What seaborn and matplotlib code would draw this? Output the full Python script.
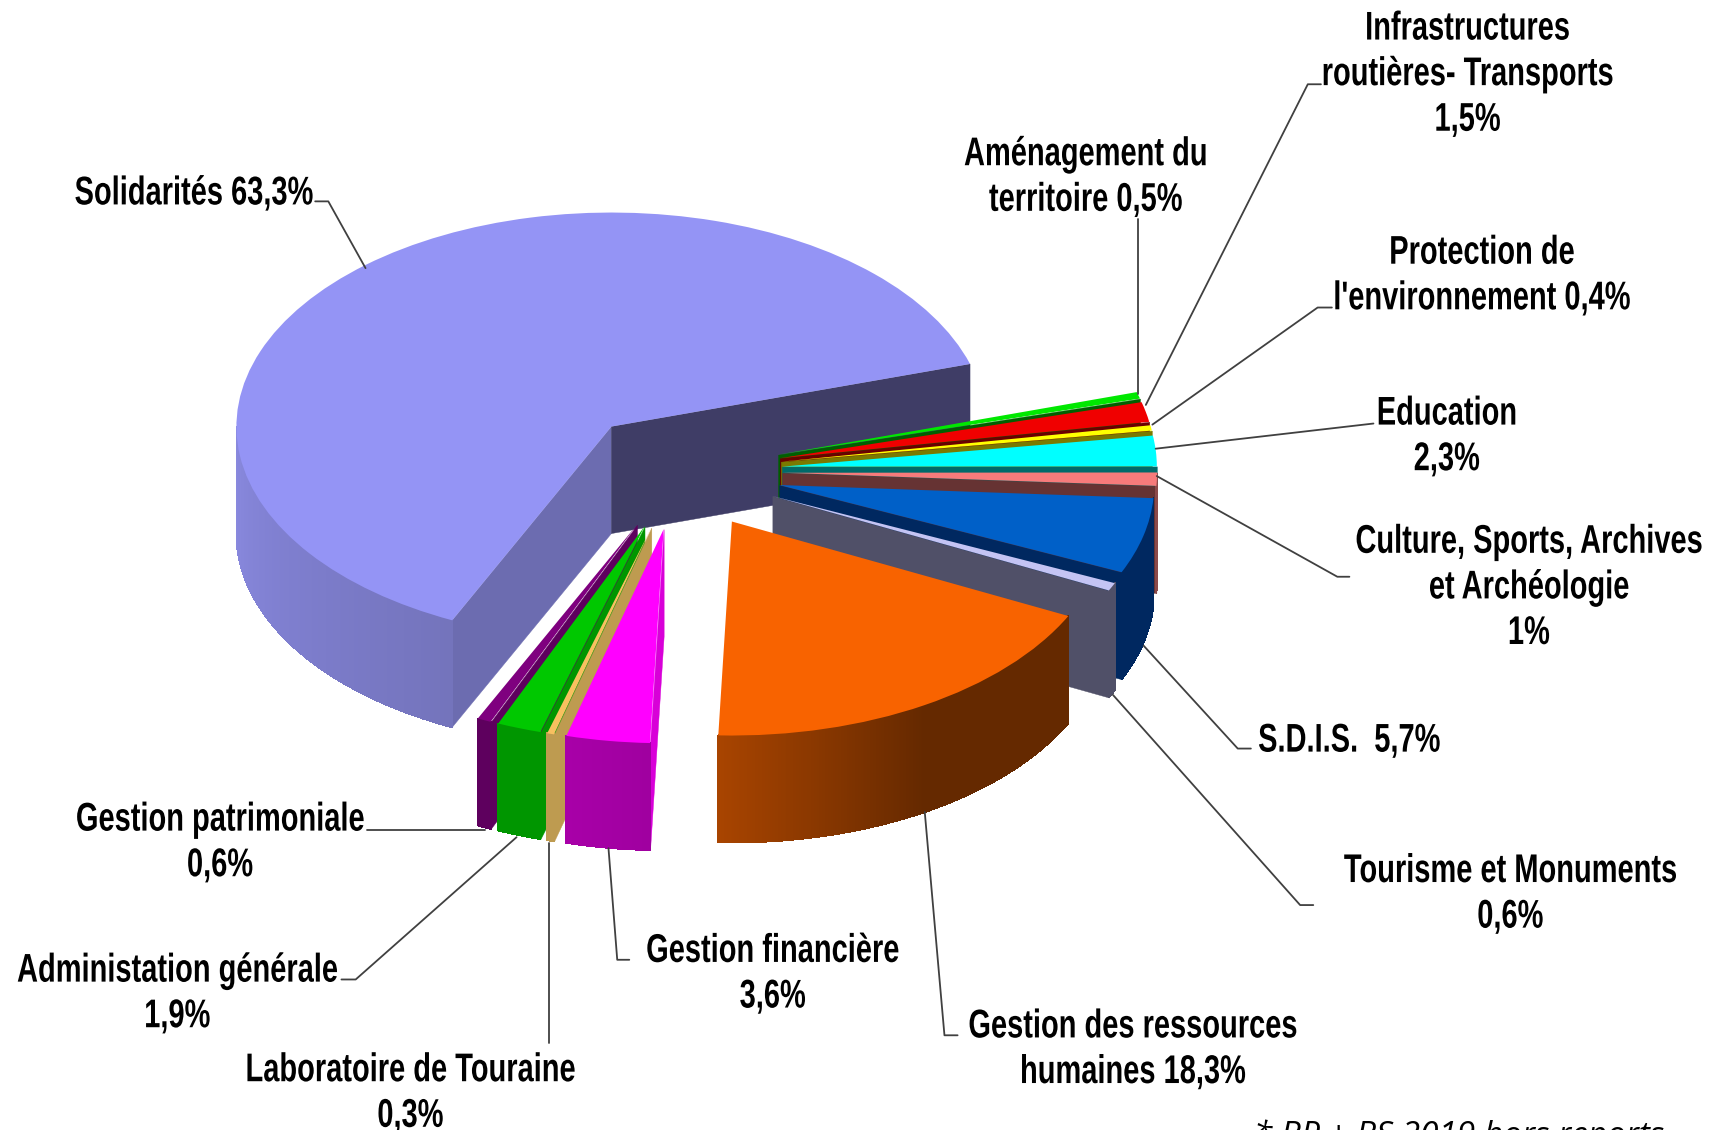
import numpy as np
import matplotlib
matplotlib.use("Agg")
import matplotlib.pyplot as plt
import matplotlib.patheffects as pe
import seaborn as sns
from matplotlib.collections import PolyCollection
from matplotlib.transforms import Affine2D

# budget shares, clockwise starting right after the end of "Solidarites"
values = [0.5, 1.5, 0.4, 2.3, 1.0, 5.7, 0.6, 18.3, 3.6, 0.3, 1.9, 0.6, 63.3]

labels = [
    "Aménagement du\nterritoire 0,5%",
    "Infrastructures\nroutières- Transports\n1,5%",
    "Protection de\nl'environnement 0,4%",
    "Education\n2,3%",
    "Culture, Sports, Archives\net Archéologie\n1%",
    "S.D.I.S.  5,7%",
    "Tourisme et Monuments\n0,6%",
    "Gestion des ressources\nhumaines 18,3%",
    "Gestion financière\n3,6%",
    "Laboratoire de Touraine\n0,3%",
    "Administation générale\n1,9%",
    "Gestion patrimoniale\n0,6%",
    "Solidarités 63,3%",
]
footnote = "* BP + BS 2019 hors reports"

top_colors = ["#00E800", "#F00000", "#FFFF00", "#00FFFF", "#F77B7B", "#0060C8", "#C4C4F4",
              "#F86300", "#FF00FF", "#F8C060", "#00C800", "#7F007F", "#9494F5"]
cut_colors = ["#006000", "#6A0000", "#7A7A00", "#006A6A", "#663333", "#002860", "#505068",
              "#652900", "#D800D8", "#BE9B50", "#009600", "#5E005E", "#3F3D66"]
wall_left = ["#006000", "#6A0000", "#7A7A00", "#006A6A", "#8B4A4A", "#002860", "#505068",
             "#A84400", "#A800A8", "#BE9B50", "#009600", "#5E005E", "#8A8AE0"]
wall_mid = ["#006000", "#6A0000", "#7A7A00", "#006A6A", "#8B4A4A", "#002860", "#505068",
            "#652900", "#A400A4", "#BE9B50", "#009600", "#5E005E", "#7E7ECE"]
wall_right = ["#006000", "#6A0000", "#7A7A00", "#006A6A", "#8B4A4A", "#002860", "#505068",
              "#652900", "#A000A0", "#BE9B50", "#009600", "#5E005E", "#7474BC"]

# layout, in pixels of the 1716x1130 picture
CX, CY = 679, 471
RX, RY = 375, 214
DEPTH = 107 / RY
EXPLODE = 0.275
START = 17
S = 1716 / 1568
TEXT_STRETCH = 1.38

label_x = [992, 1341, 1354, 1322, 1397, 1233, 1380, 1035, 706, 375, 162, 201, 177]
label_y = [159, 65, 249, 396, 534, 674, 814, 956, 887, 996, 905, 767, 174]

leaders = [
    [(1040, 200), (1040, 360)],
    [(1207, 77), (1195, 77), (1047, 370)],
    [(1217, 281), (1204, 281), (1053, 388)],
    [(1255, 387), (1056, 410)],
    [(1233, 527), (1222, 527), (1057, 435)],
    [(1143, 684), (1131, 684), (1045, 590)],
    [(1200, 827), (1188, 827), (1017, 635)],
    [(875, 946), (863, 946), (845, 742)],
    [(575, 877), (564, 877), (556, 775)],
    [(502, 953), (502, 770)],
    [(312, 895), (325, 895), (472, 765)],
    [(335, 758), (443, 758)],
    [(288, 184), (300, 184), (334, 245)],
]


class TallText(pe.AbstractPathEffect):
    # the labels are a squeezed Arial, no narrow font here so stretch the height
    def draw_path(self, renderer, gc, tpath, affine, rgbFace=None):
        renderer.draw_path(gc, tpath, Affine2D().scale(1, TEXT_STRETCH) + affine, rgbFace)


def cut_face(x0, y0, a):
    x1, y1 = x0 + np.cos(a), y0 + np.sin(a)
    return [(x0, y0), (x1, y1), (x1, y1 - DEPTH), (x0, y0 - DEPTH)]


def draw_slice_sides(ax, wedge, i, z):
    x0, y0 = wedge.center
    upper, lower = np.radians(wedge.theta2), np.radians(wedge.theta1)

    # cut faces that turn towards the viewer
    polys, cols = [], []
    if np.cos(upper) < 0:
        polys.append(cut_face(x0, y0, upper))
        # the big slice has a lighter face on its front cut
        cols.append("#6C6CB0" if i == len(values) - 1 else cut_colors[i])
    if np.cos(lower) > 0:
        polys.append(cut_face(x0, y0, lower))
        cols.append(cut_colors[i])
    if polys:
        ax.add_collection(PolyCollection(polys, facecolors=cols, edgecolors=cols,
                                         linewidths=0.3, zorder=z))

    # outer wall, as thin strips for the shading
    ang = np.radians(np.linspace(wedge.theta1, wedge.theta2,
                                 max(int((wedge.theta2 - wedge.theta1) * 4), 8)))
    ang = ang[np.sin(ang) <= 0]
    if len(ang) < 2:
        return
    shades = sns.blend_palette([wall_left[i], wall_mid[i], wall_right[i]], len(ang) - 1)
    xs = x0 + np.cos(ang)
    ys = y0 + np.sin(ang)
    order = np.argsort(xs)
    xs, ys = xs[order], ys[order]
    strips = []
    for k in range(len(xs) - 1):
        strips.append([(xs[k], ys[k]), (xs[k + 1], ys[k + 1]),
                       (xs[k + 1], ys[k + 1] - DEPTH), (xs[k], ys[k] - DEPTH)])
    ax.add_collection(PolyCollection(strips, facecolors=shades, edgecolors=shades,
                                     linewidths=0.6, antialiaseds=False, zorder=z + 0.1))


sns.set_theme(style="white")
plt.rcParams["font.family"] = ["Liberation Sans", "DejaVu Sans"]

fig = plt.figure(figsize=(17.16, 11.30), dpi=100)
ax = fig.add_axes([0, 0, 1, 1])
wedges, _ = ax.pie(values, explode=[EXPLODE] * len(values), startangle=START,
                   counterclock=False, colors=top_colors, wedgeprops={"linewidth": 0})
ax.set_aspect("auto")
ax.set_xlim(-CX / RX, (1716 - CX) / RX)
ax.set_ylim((CY - 1130) / RY, CY / RY)
ax.axis("off")

# back slices first, front slices painted over them
mids = [np.sin(np.radians((w.theta1 + w.theta2) / 2)) for w in wedges]
for z, i in enumerate(np.argsort(mids)[::-1]):
    draw_slice_sides(ax, wedges[i], i, 2 * z + 1)
    wedges[i].set_zorder(2 * z + 1.5)

# labels and leader lines live in an overlay with pixel coordinates
over = fig.add_axes([0, 0, 1, 1], facecolor="none")
over.set_xlim(0, 1716)
over.set_ylim(1130, 0)
over.axis("off")

for pts in leaders:
    over.plot([p[0] * S for p in pts], [p[1] * S for p in pts], color="#404040", lw=1.3)

for name, x, y in zip(labels, label_x, label_y):
    t = over.text(x * S, y * S + 6, name, ha="center", va="center", multialignment="center",
                  fontsize=20.9, fontweight="bold", color="black", linespacing=1.8)
    t.set_path_effects([TallText()])

over.text(1254, 1136, footnote, ha="left", va="center", fontsize=24, style="italic",
          family="Open Sans", color="black", clip_on=False)

fig.savefig("out.png", dpi=100)
